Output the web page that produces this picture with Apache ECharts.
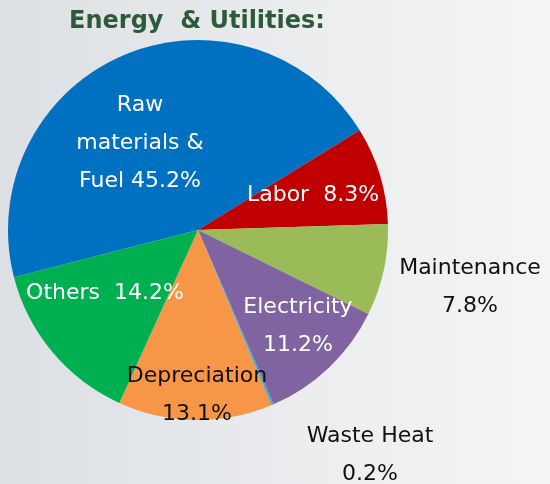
<!DOCTYPE html>
<html>
<head>
<meta charset="utf-8">
<script src="https://cdn.jsdelivr.net/npm/echarts@6/dist/echarts.min.js"></script>
<style>
  html, body { margin: 0; padding: 0; }
  #chart {
    width: 550px;
    height: 484px;
    background: linear-gradient(90deg, #dcdfe3 0%, #eceef0 60%, #f3f4f6 100%);
  }
</style>
</head>
<body>
<div id="chart"></div>
<script>
const categories = ["Raw materials & Fuel", "Labor", "Maintenance", "Electricity", "Waste Heat", "Depreciation", "Others"];
const shares = [45.2, 8.3, 7.8, 11.2, 0.2, 13.1, 14.2];
const labelTexts = [
  "Raw\nmaterials &\nFuel 45.2%",
  "Labor  8.3%",
  "Maintenance\n7.8%",
  "Electricity\n11.2%",
  "Waste Heat\n0.2%",
  "Depreciation\n13.1%",
  "Others  14.2%"
];
const colors = ["#0070c0", "#c00000", "#9bbb59", "#8064a2", "#4bacc6", "#f79646", "#00b050"];
const labelColors = ["#fff", "#fff", "#111", "#fff", "#111", "#111", "#fff"];
// label anchor spots (centre of the text block)
const labelSpots = [
  [140, 143], [313, 195], [470, 287], [298, 326], [370, 455], [197, 395], [105, 293]
];

const myChart = echarts.init(document.getElementById("chart"));
myChart.setOption({
  title: {
    text: "Energy  & Utilities:",
    left: 192,
    top: 5,
    textAlign: "center",
    textStyle: {
      color: "#2d5a38",
      fontFamily: "DejaVu Sans",
      fontWeight: "bold",
      fontSize: 24,
    },
  },
  series: [
    {
      type: "pie",
      center: [198, 230],
      radius: 190,
      startAngle: 194.4,
      clockwise: true,
      silent: true,
      data: categories.map((name, i) => ({
        name,
        value: shares[i],
        itemStyle: { color: colors[i] },
        label: { color: labelColors[i], formatter: labelTexts[i] },
      })),
      label: {
        show: true,
        position: "inside",
        fontFamily: "DejaVu Sans",
        fontSize: 22,
        lineHeight: 38,
        align: "center",
      },
      labelLine: { show: false },
      labelLayout: (params) => ({
        x: labelSpots[params.dataIndex][0],
        y: labelSpots[params.dataIndex][1],
        align: "center",
        verticalAlign: "middle",
      }),
    },
  ],
});
</script>
</body>
</html>
